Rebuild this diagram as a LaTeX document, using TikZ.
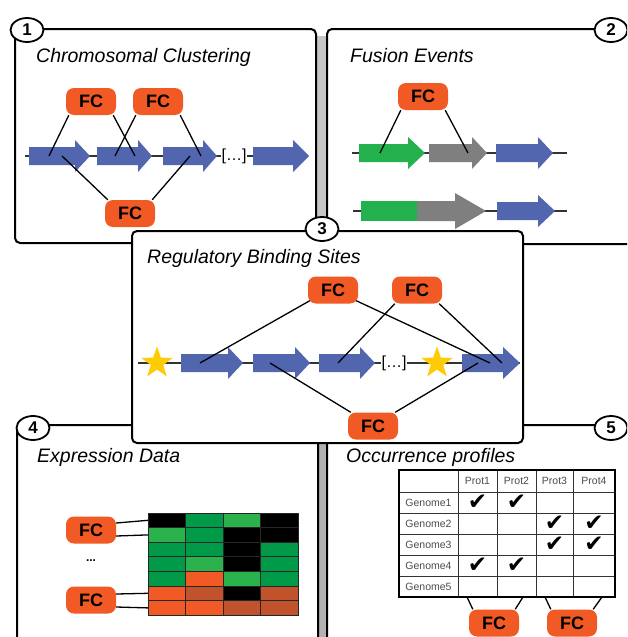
\documentclass[tikz,border=0pt]{standalone}
\usepackage{fontspec}
\setmainfont{Liberation Sans}
\newfontfamily\symfont{DejaVu Sans}
\usetikzlibrary{shapes.geometric}

\definecolor{fcorange}{HTML}{F15A24}
\definecolor{genblue}{HTML}{5266B0}
\definecolor{gengreen}{HTML}{22B14C}
\definecolor{gengray}{HTML}{7F7F7F}
\definecolor{staryellow}{HTML}{FFCB05}
\definecolor{hmdark}{HTML}{009A48}
\definecolor{hmlight}{HTML}{2BB24C}
\definecolor{hmbrown}{HTML}{C0532B}

% gene arrow: tail, neck, tip, y, colour
\newcommand\drawgene[5]{%
  \fill[#5] (#1,#4-9) -- (#2,#4-9) -- (#2,#4-16) -- (#3,#4)
            -- (#2,#4+16) -- (#2,#4+9) -- (#1,#4+9) -- cycle;}

\begin{document}
\begin{tikzpicture}[x=1pt, y=-1pt,
    panel/.style = {draw, line width=2pt, rounded corners=5pt, fill=white},
      num/.style = {ellipse, draw, line width=1.8pt, fill=white,% numbered tags
                    minimum width=33, minimum height=24, inner sep=0pt,
                    font=\fontsize{17}{17}\selectfont\bfseries},
  heading/.style = {anchor=base west, inner sep=0pt,
                    font=\fontsize{19.5}{22}\selectfont\itshape},
       FC/.style = {rectangle, rounded corners=8pt, fill=fcorange,
                    minimum width=50, minimum height=27, inner sep=0pt,
                    font=\fontsize{18}{18}\selectfont\bfseries},
     link/.style = {line width=1.3pt},
    chrom/.style = {line width=1.5pt, black!80},
      gap/.style = {fill=white, inner sep=1pt, font=\fontsize{16}{16}\selectfont},
     site/.style = {star, star points=5, star point ratio=2.5, fill=staryellow,
                    minimum size=33, inner sep=0pt},
        H/.style = {rectangle, draw=black!85, line width=0.7pt,% heat map cells
                    minimum width=37.5, minimum height=14.6, inner sep=0pt, outer sep=0pt},
        T/.style = {rectangle, draw=black!80, line width=0.9pt,% table cells
                    inner sep=0pt, outer sep=0pt},
       tx/.style = {font=\fontsize{10.5}{12}\selectfont, text=black!70},
      chk/.style = {inner sep=0pt, font=\symfont\fontsize{23}{23}\selectfont},
                        ]
\clip (0,0) rectangle (627,637);
\fill[white] (0,0) rectangle (627,637);
% shadows between the panels
\fill[gray!45] (315,36) rectangle (328,240);
\fill[gray!60] (317,430) rectangle (328,637);
% panels
\draw[panel] (15,29) rectangle (316,243);
\draw[panel] (327,29) rectangle (645,244);
\draw[panel] (17,425) rectangle (318,660);
\draw[panel] (327,425) rectangle (645,660);

% 1 - chromosomal clustering
\node[heading] (t1) at (36,62) {Chromosomal Clustering};
\draw[chrom] (25,156) -- (253,156);
\drawgene{29}{75}{90}{156}{genblue}
\drawgene{97}{138}{152}{156}{genblue}
\drawgene{163}{203}{217}{156}{genblue}
\drawgene{253}{293}{309}{156}{genblue}
\node[gap] (g1) at (234,156) {[…]};
\node[FC] (A1) at (91,101.5) {FC};
\node[FC] (A2) at (158,101.5) {FC};
\node[FC] (A3) at (130,213.5) {FC};
\coordinate (a1) at (49,156);
\coordinate (a2) at (135,156);
\coordinate (a3) at (115,156);
\coordinate (a4) at (201,156);
\coordinate (a5) at (62,156);
\coordinate (a6) at (190,156);
\draw[link] ([xshift=3pt]A1.south west) -- (a1);
\draw[link] ([xshift=-3pt]A1.south east) -- (a2);
\draw[link] ([xshift=3pt]A2.south west) -- (a3);
\draw[link] ([xshift=-3pt]A2.south east) -- (a4);
\draw[link] ([xshift=3pt]A3.north west) -- (a5);
\draw[link] ([xshift=-3pt]A3.north east) -- (a6);

% 2 - fusion events
\node[heading] (t2) at (350,62) {Fusion Events};
\draw[chrom] (352,153) -- (567,153);
\drawgene{359}{408}{425}{153}{gengreen}
\drawgene{429}{472}{487}{153}{gengray}
\drawgene{496}{538}{553}{153}{genblue}
\draw[chrom] (353,211) -- (567,211);
\fill[gengreen] (361,201) rectangle (418,221);
\fill[gengray] (417,201) -- (455,201) -- (455,193) -- (486,211)
               -- (455,229) -- (455,221) -- (417,221) -- cycle;
\drawgene{497}{538}{555}{211}{genblue}
\node[FC] (B1) at (423,96.5) {FC};
\coordinate (b1) at (380,153);
\coordinate (b2) at (468,153);
\draw[link] ([xshift=3pt]B1.south west) -- (b1);
\draw[link] ([xshift=-3pt]B1.south east) -- (b2);

% 4 - expression data
\node[heading] (t4) at (37,462) {Expression Data};
\foreach \row [count=\r] in {{black,hmdark,hmlight,black},{hmlight,hmdark,black,black},
    {hmdark,hmdark,black,hmdark},{hmdark,hmlight,black,hmdark},{hmdark,fcorange,hmlight,hmdark},
    {fcorange,hmbrown,black,hmbrown},{fcorange,fcorange,hmbrown,hmbrown}}
  \foreach \col [count=\c] in \row
    \node[H, fill=\col] (h-\r-\c) at ({129.25+37.5*\c},{505.7+14.6*\r}) {};
\node[FC] (D1) at (91,530) {FC};
\node[FC] (D2) at (91,600) {FC};
\node[font=\fontsize{12}{12}\selectfont\bfseries] (dd) at (91,561) {...};
\draw[link] ([yshift=7pt]D1.east) -- (h-1-1.west);
\draw[link] ([yshift=-6pt]D1.east) -- (h-2-1.west);
\draw[link] ([yshift=6pt]D2.east) -- (h-6-1.west);
\draw[link] ([yshift=-7pt]D2.east) -- (h-7-1.west);

% 5 - occurrence profiles
\node[heading] (t5) at (346,462) {Occurrence profiles};
\foreach \xa/\xb [count=\c] in {399/458,458/497,497/536,536/573,573/615}
  \foreach \ya/\yb [count=\r from 0] in {470/492,492/513,513/534,534/555,555/576,576/597}
    \node[T, minimum width=\xb-\xa, minimum height=\yb-\ya]
      (t-\r-\c) at ({(\xa+\xb)/2},{(\ya+\yb)/2}) {};
\draw[line width=1.4pt] (t-0-1.north west) rectangle (t-5-5.south east);
\foreach \p [count=\c from 2] in {1,2,3,4}
  \node[tx] at (t-0-\c) {Prot\p};
\foreach \r in {1,...,5}
  \node[tx] at (t-\r-1) {Genome\r};
\foreach \p in {1-2,1-3,2-4,2-5,3-4,3-5,4-2,4-3}
  \node[chk] at (t-\p) {✔};
\node[FC] (E1) at (494,623) {FC};
\node[FC] (E2) at (572,623) {FC};
\draw[link] ([xshift=9pt]t-5-2.south west) -- ([xshift=4pt]E1.north west);
\draw[link] ([xshift=-13pt]t-5-3.south east) -- ([xshift=-4pt]E1.north east);
\draw[link] ([xshift=9pt]t-5-4.south west) -- ([xshift=4pt]E2.north west);
\draw[link] ([xshift=-13pt]t-5-5.south east) -- ([xshift=-4pt]E2.north east);

% 3 - regulatory binding sites
\draw[panel] (132,231) rectangle (523,443);
\node[heading] (t3) at (147,263) {Regulatory Binding Sites};
\draw[chrom] (138,363) -- (520,363);
\drawgene{181}{228}{243}{363}{genblue}
\drawgene{253}{295}{310}{363}{genblue}
\drawgene{319}{360}{375}{363}{genblue}
\drawgene{462}{503}{520}{363}{genblue}
\node[gap] (g3) at (394,363) {[…]};
\node[site] (S1) at (157,363) {};
\node[site] (S2) at (437,363) {};
\node[FC] (C1) at (333,290) {FC};
\node[FC] (C2) at (417,290) {FC};
\node[FC] (C3) at (373,426) {FC};
\coordinate (c1) at (200,363);
\coordinate (c2) at (490,363);
\coordinate (c3) at (338,363);
\coordinate (c4) at (502,363);
\coordinate (c5) at (270,363);
\coordinate (c6) at (478,363);
\draw[link] ([xshift=2pt,yshift=3pt]C1.south west) -- (c1);
\draw[link] ([xshift=-2pt,yshift=3pt]C1.south east) -- (c2);
\draw[link] ([xshift=3pt]C2.south west) -- (c3);
\draw[link] ([xshift=-3pt]C2.south east) -- (c4);
\draw[link] ([xshift=3pt]C3.north west) -- (c5);
\draw[link] ([xshift=-3pt]C3.north east) -- (c6);

% numbered tags
\node[num] (n1) at (27,30) {1};
\node[num] (n2) at (611,30) {2};
\node[num] (n3) at (322,229) {3};
\node[num] (n4) at (33,428) {4};
\node[num] (n5) at (611,428) {5};
\end{tikzpicture}
\end{document}
